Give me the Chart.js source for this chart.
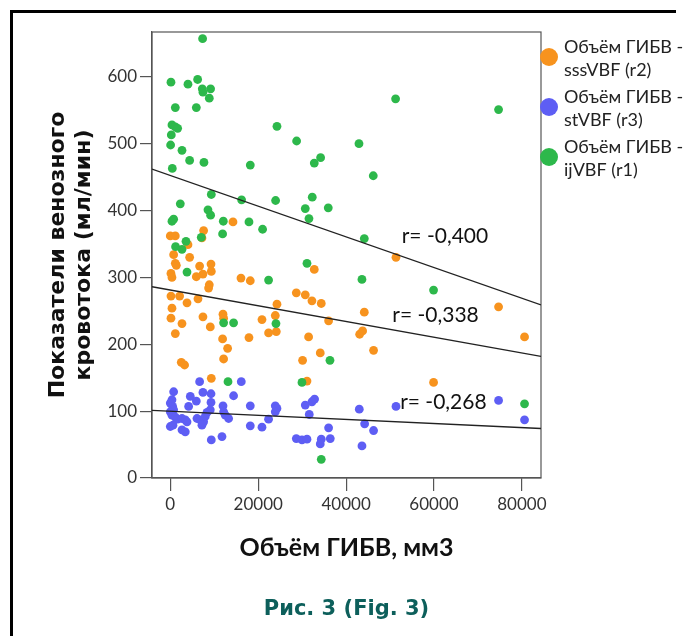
<!DOCTYPE html>
<html>
<head>
<meta charset="utf-8">
<script src="https://cdn.jsdelivr.net/npm/chart.js@4.4.1/dist/chart.umd.min.js"></script>
<style>
  body { margin: 0; background: #fff; }
  .frame { position: absolute; left: 10px; top: 10px; width: 663px; height: 700px; border: 3px solid #000; border-right: none; }
  .wrap { position: absolute; left: 0; top: 0; width: 683px; height: 636px; }
</style>
</head>
<body>
<div class="frame"></div>
<div class="wrap"><canvas id="myChart" width="683" height="636"></canvas></div>
<script>
// Объём ГИБВ (мм3) и показатели кровотока, по группам
const volumeSss = [51350, 4020, 760, 1140, 1370, 4400, 6670, 9260, 9330, 7430, 5920, 150, 380, 32760, 16080, 18200, 8870, 8710, 28670, 30710, 32230, 34350, 150, 2120, 3800, 6300, 380, 24270, 36020, 150, 2660, 7430, 11990, 12130, 9100, 20860, 23890, 24120, 22360, 1140, 17900, 11900, 13040, 31470, 34120, 12130, 30100, 2500, 3250, 9330, 31100, 74690, 44140, 43080, 43760, 46250, 80600, 59900, 14260, 0, 1140, 7580, 7200];
const sssVBF = [330, 349, 334, 321, 318, 330, 317, 320, 309, 305, 301, 306, 300, 312, 299, 295, 289, 284, 277, 274, 265, 261, 272, 272, 262, 268, 254, 260, 235, 239, 231, 241, 245, 239, 226, 237, 243, 219, 217, 216, 210, 208, 194, 211, 187, 178, 176, 173, 169, 149, 145, 256, 248, 215, 220, 191, 211, 143, 383, 362, 362, 370, 359];

const volumeSt = [6670, 16150, 760, 4550, 7430, 9260, 5920, 14400, 380, 0, 530, 760, 0, 4170, 9260, 11990, 18200, 9100, 8350, 12130, 12510, 380, 1140, 1670, 2660, 3410, 3800, 6070, 6830, 7580, 7960, 13270, 18200, 0, 610, 2660, 3410, 7200, 20860, 22360, 11760, 9330, 23890, 24270, 23890, 30710, 32230, 32830, 31620, 36020, 36400, 28670, 29960, 31100, 34350, 34120, 43000, 51350, 74690, 80600, 44220, 46250, 43610];
const stVBF = [144, 144, 129, 122, 128, 126, 115, 123, 117, 112, 107, 102, 99, 107, 113, 108, 108, 102, 98, 99, 94, 94, 91, 88, 89, 87, 84, 89, 87, 84, 92, 89, 78, 77, 79, 72, 69, 79, 76, 88, 62, 57, 108, 104, 99, 109, 114, 118, 95, 75, 59, 59, 57, 58, 58, 51, 103, 107, 116, 87, 81, 71, 48];

const volumeIj = [7350, 150, 4020, 6220, 7280, 9170, 7430, 8870, 1140, 5920, 380, 1140, 1670, 230, 70, 2660, 4400, 7660, 455, 24270, 28740, 18200, 32760, 34200, 9330, 16220, 23960, 32300, 30710, 35940, 31550, 2275, 8570, 9170, 380, 760, 12060, 17900, 21000, 11900, 1200, 2660, 3570, 7050, 51260, 74690, 42930, 46180, 44140, 3800, 31100, 22360, 12130, 14400, 24040, 36330, 13130, 29960, 34350, 43610, 59900, 80600];
const ijVBF = [657, 592, 589, 596, 582, 582, 577, 568, 554, 554, 528, 525, 523, 513, 498, 490, 475, 472, 463, 526, 504, 468, 471, 479, 424, 416, 415, 420, 403, 404, 388, 410, 401, 393, 384, 387, 384, 383, 372, 365, 346, 342, 354, 360, 567, 551, 500, 452, 358, 308, 321, 296, 232, 232, 231, 176, 144, 143, 28, 297, 281, 111];

// линии регрессии: значения на краях оси X
const fitX = [-4164, 84346];
const fitIj = [462, 259];
const fitSss = [286, 182];
const fitSt = [101, 74];

const rTexts = ["r= -0,400", "r= -0,338", "r= -0,268"];

const xTicks = [0, 20000, 40000, 60000, 80000];
const yTicks = [0, 100, 200, 300, 400, 500, 600];

const colOrange = "#f7931e";
const colBlue = "#5e5ef4";
const colGreen = "#2db84b";

function pts(xs, ys) {
  return xs.map((x, i) => ({ x: x, y: ys[i] }));
}

function fitLine(ys) {
  return {
    type: "line",
    data: pts(fitX, ys),
    borderColor: "#222",
    borderWidth: 1.3,
    pointRadius: 0,
    showLine: true,
  };
}

function dots(label, lines, xs, ys, color) {
  return {
    label: label,
    legendLines: lines,
    data: pts(xs, ys),
    backgroundColor: color,
    borderWidth: 0,
    pointRadius: 4.4,
    pointHoverRadius: 4.4,
  };
}

const dsSss = dots("Объём ГИБВ - sssVBF (r2)", ["Объём ГИБВ -", "sssVBF (r2)"], volumeSss, sssVBF, colOrange);
const dsSt = dots("Объём ГИБВ - stVBF (r3)", ["Объём ГИБВ -", "stVBF (r3)"], volumeSt, stVBF, colBlue);
const dsIj = dots("Объём ГИБВ - ijVBF (r1)", ["Объём ГИБВ -", "ijVBF (r1)"], volumeIj, ijVBF, colGreen);

// рамка области графика, подписи r и легенда справа
const extras = {
  id: "extras",
  beforeDatasetsDraw(chart) {
    const { ctx, chartArea } = chart;
    ctx.save();
    ctx.strokeStyle = "#555";
    ctx.lineWidth = 1.2;
    ctx.strokeRect(chartArea.left, chartArea.top, chartArea.right - chartArea.left, chartArea.bottom - chartArea.top);
    ctx.restore();
  },
  afterDatasetsDraw(chart, args, opts) {
    const { ctx, scales } = chart;
    ctx.save();
    ctx.font = "21px Lato";
    ctx.fillStyle = "#111";
    ctx.textBaseline = "middle";
    ctx.textAlign = "left";
    opts.notes.forEach((n, i) => {
      ctx.fillText(rTexts[i], scales.x.getPixelForValue(n[0]), scales.y.getPixelForValue(n[1]));
    });

    const legendSets = [dsSss, dsSt, dsIj];
    ctx.font = "18px Lato";
    legendSets.forEach((ds, i) => {
      const top = opts.legendTop + i * opts.legendStep;
      ctx.beginPath();
      ctx.arc(opts.legendX, top + 10, 9, 0, Math.PI * 2);
      ctx.fillStyle = ds.backgroundColor;
      ctx.fill();
      ctx.fillStyle = "#222";
      ds.legendLines.forEach((t, j) => {
        ctx.fillText(t, opts.legendX + 15, top + j * 23);
      });
    });
    ctx.restore();
  },
};

const config = {
  type: "scatter",
  data: {
    datasets: [fitLine(fitIj), fitLine(fitSss), fitLine(fitSt), dsIj, dsSss, dsSt],
  },
  options: {
    responsive: false,
    animation: false,
    layout: { padding: { top: 32, right: 142, left: 0, bottom: 0 } },
    plugins: {
      legend: { display: false },
      tooltip: { enabled: false },
      title: {
        display: true,
        text: "Рис. 3 (Fig. 3)",
        position: "bottom",
        fullSize: false,
        color: "#0d5f5b",
        font: { family: "DejaVu Sans", size: 21, weight: "bold", lineHeight: 26 / 21 },
        padding: { top: 0, bottom: 13 },
      },
      extras: {
        notes: [[52650, 361], [50500, 244], [52300, 113]],
        legendX: 549,
        legendTop: 47,
        legendStep: 50,
      },
    },
    scales: {
      x: {
        type: "linear",
        min: -4164,
        max: 84346,
        afterBuildTicks: (axis) => { axis.ticks = xTicks.map((v) => ({ value: v })); },
        afterFit: (axis) => { axis.height = 119; },
        grid: { drawOnChartArea: false, drawTicks: true, tickLength: 13, color: "#555", lineWidth: 1.2 },
        border: { display: true, color: "#555", width: 1.2 },
        ticks: { color: "#333", font: { family: "Lato", size: 17 }, padding: 3, maxRotation: 0, callback: (v) => String(v) },
        title: {
          display: true,
          text: "Объём ГИБВ, мм3",
          color: "#111",
          font: { family: "Lato", size: 25, weight: "bold", lineHeight: 26 / 25 },
          padding: { top: 0, bottom: 36 },
        },
      },
      y: {
        type: "linear",
        min: 0,
        max: 667,
        afterBuildTicks: (axis) => { axis.ticks = yTicks.map((v) => ({ value: v })); },
        afterFit: (axis) => { axis.width = 152; },
        grid: { drawOnChartArea: false, drawTicks: true, tickLength: 12, color: "#555", lineWidth: 1.2 },
        border: { display: true, color: "#555", width: 1.2 },
        ticks: { color: "#333", font: { family: "Lato", size: 17 }, padding: 3, callback: (v) => String(v) },
        title: {
          display: true,
          text: ["Показатели венозного", "кровотока (мл/мин)"],
          color: "#111",
          font: { family: "DejaVu Sans", size: 22, weight: "bold", lineHeight: 26 / 22 },
          padding: { top: 45, bottom: 0 },
        },
      },
    },
  },
  plugins: [extras],
};

const myChart = document.getElementById("myChart");
const grafico = new Chart(myChart, config);
</script>
</body>
</html>
